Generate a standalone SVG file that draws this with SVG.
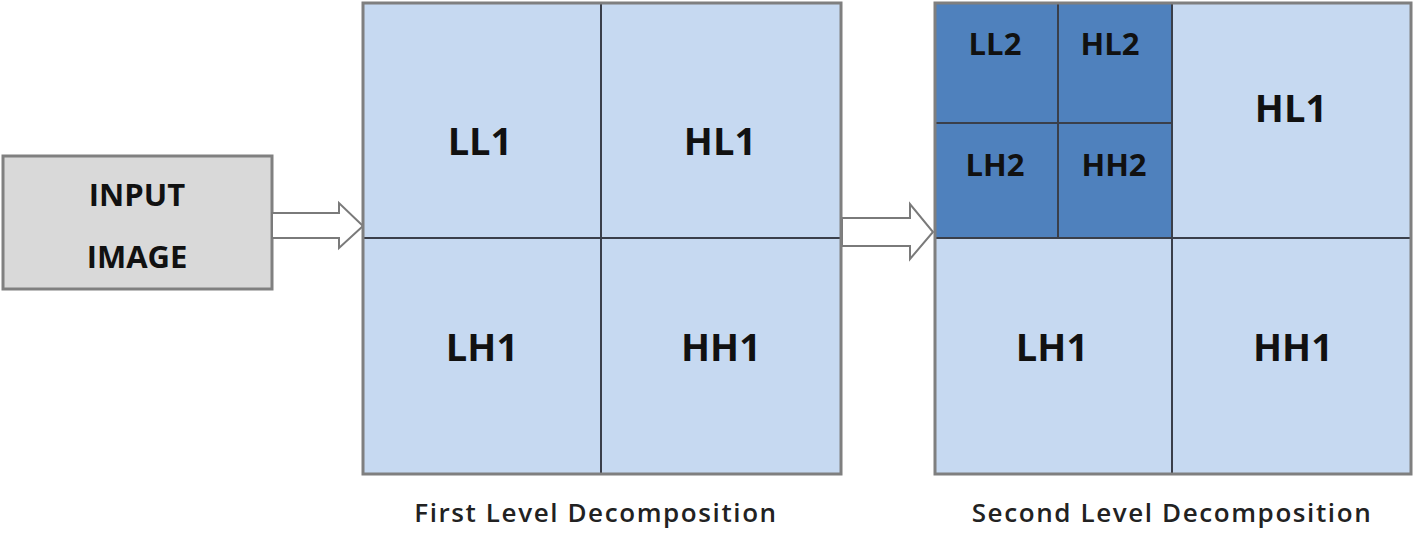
<svg xmlns="http://www.w3.org/2000/svg" width="1415" height="536" viewBox="0 0 1415 536">
<style>
.light{fill:#c6d9f1}
.dark{fill:#4f81bd}
.border{fill:none;stroke:#7f7f7f;stroke-width:3}
.div{stroke:#3a3f4a;stroke-width:2;fill:none}
.lbl{font-family:"Open Sans","Liberation Sans",sans-serif;font-weight:700;fill:#111;text-anchor:middle}
.big{font-size:38px}
.small{font-size:31px}
.cap{font-family:"Open Sans","Liberation Sans",sans-serif;font-weight:600;font-size:26px;letter-spacing:1.6px;fill:#222;text-anchor:middle}
.arrow{fill:#fff;stroke:#7a7a7a;stroke-width:2;stroke-linejoin:miter}
</style>
<rect width="1415" height="536" fill="#fff"/>
<g id="input">
<rect x="3" y="156" width="269" height="133" fill="#d9d9d9" stroke="#808080" stroke-width="3"/>
<text class="lbl" x="137" y="206" font-size="31">INPUT</text>
<text class="lbl" x="137" y="268" font-size="31">IMAGE</text>
</g>
<g id="connectors">
<polygon class="arrow" points="272,213 339,213 339,203 363,226 339,248 339,238 272,238"/>
<polygon class="arrow" points="842,218 910,218 910,204 933,232 910,259 910,246 842,246"/>
</g>
<g id="first-level">
<rect class="light" x="363" y="3" width="478" height="471"/>
<line class="div" x1="601" y1="3" x2="601" y2="474"/>
<line class="div" x1="363" y1="238" x2="841" y2="238"/>
<rect class="border" x="363" y="3" width="478" height="471"/>
<text class="lbl big" x="480" y="155">LL1</text>
<text class="lbl big" x="720" y="155">HL1</text>
<text class="lbl big" x="482" y="361">LH1</text>
<text class="lbl big" x="721" y="361">HH1</text>
<text class="cap" x="596" y="522">First Level Decomposition</text>
</g>
<g id="second-level">
<rect class="light" x="935" y="3" width="476" height="471"/>
<rect class="dark" x="935" y="3" width="237" height="235"/>
<line class="div" x1="1172" y1="3" x2="1172" y2="474"/>
<line class="div" x1="935" y1="238" x2="1411" y2="238"/>
<line class="div" x1="1058" y1="3" x2="1058" y2="238"/>
<line class="div" x1="935" y1="123" x2="1172" y2="123"/>
<rect class="border" x="935" y="3" width="476" height="471"/>
<text class="lbl small" x="995" y="55">LL2</text>
<text class="lbl small" x="1110" y="55">HL2</text>
<text class="lbl small" x="995" y="176">LH2</text>
<text class="lbl small" x="1114" y="176">HH2</text>
<text class="lbl big" x="1291" y="122">HL1</text>
<text class="lbl big" x="1052" y="361">LH1</text>
<text class="lbl big" x="1293" y="361">HH1</text>
<text class="cap" x="1172" y="522">Second Level Decomposition</text>
</g>
</svg>
